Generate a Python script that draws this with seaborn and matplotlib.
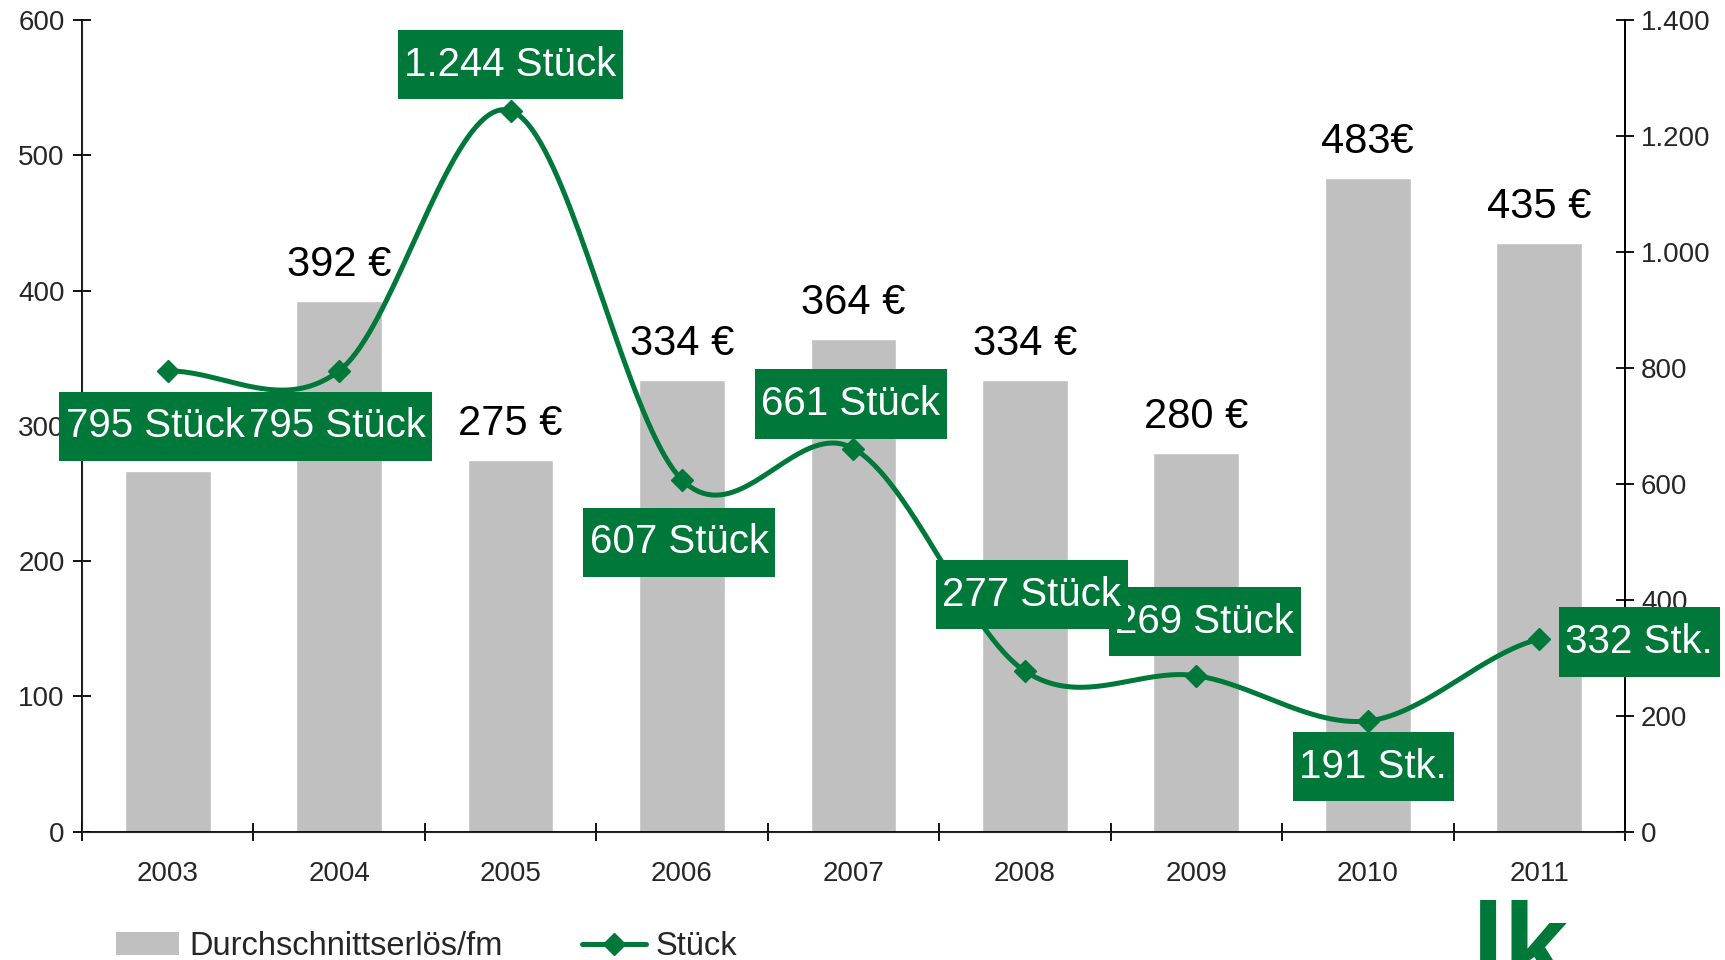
import numpy as np
import matplotlib
matplotlib.use('Agg')
import matplotlib.pyplot as plt
import seaborn as sns
import pandas as pd
from matplotlib.patches import Patch
from matplotlib.lines import Line2D
from matplotlib.path import Path
from matplotlib.ticker import FuncFormatter, FixedLocator

# Daten
jahre = ['2003', '2004', '2005', '2006', '2007', '2008', '2009', '2010', '2011']
erloes = [267, 392, 275, 334, 364, 334, 280, 483, 435]
erloes_labels = ['267 €', '392 €', '275 €', '334 €', '364 €', '334 €', '280 €', '483€', '435 €']
stueck = [795, 795, 1244, 607, 661, 277, 269, 191, 332]
stueck_labels = ['795 Stück', '795 Stück', '1.244 Stück', '607 Stück', '661 Stück',
                 '277 Stück', '269 Stück', '191 Stk.', '332 Stk.']

# Layout der grünen Beschriftungen (Versatz in Punkten, Zeichenreihenfolge)
label_offsets = [(-9, -40), (-2, -40), (0, 33), (-2, -45), (-2, 32), (5, 55), (6, 39), (4, -33), (72, -2)]
label_z = [7, 6, 5, 5, 5, 7, 6, 5, 5]

GRUEN = '#00783A'
GRAU = '#C0C0C0'


def catmull_rom(y, n=40):
    """Geglättete Linie wie in Excel (Catmull-Rom durch die Datenpunkte)."""
    y = np.asarray(y, dtype=float)
    p = np.concatenate([[y[0]], y, [y[-1]]])
    xs, ys = [], []
    for i in range(len(y) - 1):
        p0, p1, p2, p3 = p[i], p[i + 1], p[i + 2], p[i + 3]
        m1 = (p2 - p0) / 2
        m2 = (p3 - p1) / 2
        t = np.linspace(0, 1, n, endpoint=(i == len(y) - 2))
        h00 = 2 * t**3 - 3 * t**2 + 1
        h10 = t**3 - 2 * t**2 + t
        h01 = -2 * t**3 + 3 * t**2
        h11 = t**3 - t**2
        xs.append(i + t)
        ys.append(h00 * p1 + h10 * m1 + h01 * p2 + h11 * m2)
    return np.concatenate(xs), np.concatenate(ys)


def label_box(x0, y0, width, height, mutation_size):
    """Rechteck mit wenig Rand seitlich und mehr Rand oben/unten."""
    px = 0.16 * mutation_size
    py = 0.39 * mutation_size
    x0, y0 = x0 - px, y0 - py
    x1, y1 = x0 + width + 2 * px, y0 + height + 2 * py
    return Path([(x0, y0), (x1, y0), (x1, y1), (x0, y1), (x0, y0)], closed=True)


sns.set_style('ticks')
plt.rcParams['font.family'] = ['Liberation Sans', 'DejaVu Sans']

df = pd.DataFrame({'Jahr': jahre, 'Erlös': erloes, 'Stück': stueck})

fig, ax = plt.subplots(figsize=(17.25, 9.6), dpi=100)
fig.subplots_adjust(left=0.0475, right=0.942, top=0.979, bottom=0.1337)

sns.barplot(data=df, x='Jahr', y='Erlös', color=GRAU, width=0.5, saturation=1, ax=ax)
ax.set_xlim(-0.5, len(jahre) - 0.5)
ax.set_ylim(0, 600)
ax.set_yticks(range(0, 601, 100))
ax.set_xlabel('')
ax.set_ylabel('')

for i, (v, lab) in enumerate(zip(erloes, erloes_labels)):
    ax.annotate(lab, (i, v), xytext=(0, 26), textcoords='offset points',
                ha='center', va='center', fontsize=30, color='black', zorder=2)

# Achsen & Ticks
ax.tick_params(axis='x', which='major', length=0, labelsize=20, pad=21)
ax.xaxis.set_minor_locator(FixedLocator(np.arange(-0.5, len(jahre), 1)))
ax.tick_params(axis='x', which='minor', direction='inout', length=13, width=1.3, color='black')
ax.tick_params(axis='y', direction='inout', length=13, width=1.3, labelsize=20, pad=6, color='black')
for s in ['left', 'bottom', 'right']:
    ax.spines[s].set_linewidth(1.3)
    ax.spines[s].set_color('black')
ax.spines['top'].set_visible(False)

ax2 = ax.twinx()
ax2.set_ylim(0, 1400)
ax2.set_yticks(range(0, 1401, 200))
ax2.yaxis.set_major_formatter(FuncFormatter(lambda v, p: f'{int(v):,}'.replace(',', '.')))
ax2.tick_params(axis='y', direction='inout', length=13, width=1.3, labelsize=20, pad=5, color='black')
ax2.spines['top'].set_visible(False)
ax2.spines['right'].set_linewidth(1.3)
ax2.spines['right'].set_color('black')

xs, ys = catmull_rom(stueck)
ax2.plot(xs, ys, color=GRUEN, linewidth=3.6, solid_capstyle='round', zorder=2)
ax2.plot(range(len(stueck)), stueck, linestyle='none', marker='D', markersize=11,
         color=GRUEN, zorder=3)

for i, (v, lab) in enumerate(zip(stueck, stueck_labels)):
    dx, dy = label_offsets[i]
    ax2.annotate(lab, (i, v), xytext=(dx, dy), textcoords='offset points',
                 ha='center', va='center', fontsize=29, color='white', zorder=label_z[i],
                 bbox=dict(boxstyle=label_box, facecolor=GRUEN, edgecolor='none'),
                 annotation_clip=False)

handles = [Patch(facecolor=GRAU, edgecolor='none'),
           Line2D([], [], color=GRUEN, linewidth=3.6, marker='D', markersize=11)]
fig.legend(handles, ['Durchschnittserlös/fm', 'Stück'], loc='center left',
           bbox_to_anchor=(0.050, 0.014), ncol=2, frameon=False, fontsize=23.5,
           handlelength=1.95, handletextpad=0.3, columnspacing=2.45)

# Logo
fig.text(0.853, 0.062, 'lk', fontsize=84, fontweight='bold', color=GRUEN, va='top', ha='left')

fig.savefig('out.png', dpi=100, facecolor='white')
plt.close(fig)
